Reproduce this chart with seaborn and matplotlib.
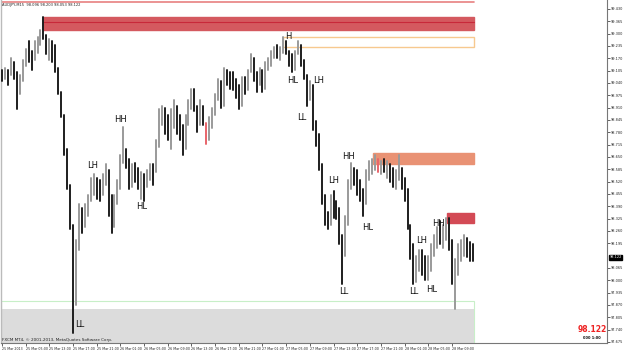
import matplotlib
matplotlib.use("Agg")
import matplotlib.pyplot as plt
import numpy as np
import pandas as pd
import seaborn as sns
from matplotlib.patches import Rectangle

# ---------------- data (AUDJPY, M15 bars) ----------------
highs = [99.11, 99.12, 99.11, 99.17, 99.15, 99.10, 99.08, 99.16, 99.22, 99.26,
         99.21, 99.26, 99.28, 99.32, 99.39, 99.29, 99.27, 99.26, 99.24, 99.12,
         98.99, 98.87, 98.69, 98.50, 98.29, 98.21, 98.40, 98.38, 98.40, 98.45,
         98.54, 98.56, 98.54, 98.53, 98.56, 98.61, 98.58, 98.45, 98.45, 98.53,
         98.66, 98.81, 98.69, 98.64, 98.61, 98.62, 98.59, 98.57, 98.56, 98.58,
         98.61, 98.61, 98.74, 98.90, 98.92, 98.91, 98.87, 98.90, 98.95, 98.92,
         98.87, 98.82, 98.87, 98.95, 99.01, 99.01, 98.92, 98.95, 98.92, 98.83,
         98.86, 98.91, 98.98, 99.06, 99.05, 99.12, 99.11, 99.10, 99.10, 99.06,
         99.03, 99.07, 99.07, 99.11, 99.19, 99.17, 99.10, 99.12, 99.11, 99.15,
         99.17, 99.21, 99.23, 99.24, 99.23, 99.28, 99.26, 99.21, 99.19, 99.21,
         99.26, 99.24, 99.16, 99.08, 99.05, 99.03, 98.84, 98.77, 98.61, 98.45,
         98.36, 98.45, 98.47, 98.42, 98.38, 98.24, 98.34, 98.53, 98.62, 98.59,
         98.58, 98.53, 98.48, 98.58, 98.63, 98.64, 98.66, 98.64, 98.63, 98.64,
         98.63, 98.61, 98.59, 98.58, 98.66, 98.59, 98.54, 98.48, 98.29, 98.19,
         98.13, 98.16, 98.16, 98.13, 98.13, 98.19, 98.24, 98.28, 98.31, 98.29,
         98.33, 98.33, 98.21, 98.11, 98.19, 98.21, 98.24, 98.22, 98.20, 98.19]
lows = [99.05, 99.06, 99.03, 99.08, 99.06, 98.90, 98.98, 99.05, 99.13, 99.15,
        99.11, 99.16, 99.20, 99.24, 99.27, 99.19, 99.16, 99.15, 99.10, 98.98,
        98.86, 98.66, 98.48, 98.27, 97.72, 97.87, 98.16, 98.25, 98.28, 98.34,
        98.42, 98.45, 98.43, 98.42, 98.45, 98.50, 98.34, 98.25, 98.28, 98.40,
        98.48, 98.62, 98.59, 98.48, 98.49, 98.52, 98.48, 98.43, 98.42, 98.49,
        98.53, 98.50, 98.57, 98.70, 98.82, 98.77, 98.74, 98.69, 98.80, 98.77,
        98.74, 98.66, 98.69, 98.82, 98.90, 98.89, 98.78, 98.82, 98.82, 98.72,
        98.74, 98.80, 98.87, 98.95, 98.91, 98.92, 99.03, 99.01, 99.00, 98.96,
        98.90, 98.92, 98.98, 99.00, 99.10, 99.05, 98.99, 99.03, 98.99, 99.01,
        99.11, 99.13, 99.17, 99.17, 99.16, 99.20, 99.19, 99.13, 99.10, 99.11,
        99.19, 99.13, 99.06, 98.92, 98.95, 98.79, 98.71, 98.58, 98.40, 98.29,
        98.27, 98.29, 98.33, 98.32, 98.19, 97.98, 98.13, 98.29, 98.48, 98.50,
        98.45, 98.42, 98.34, 98.40, 98.53, 98.56, 98.58, 98.57, 98.56, 98.57,
        98.54, 98.52, 98.49, 98.48, 98.53, 98.48, 98.42, 98.27, 98.11, 97.98,
        97.99, 98.05, 98.03, 98.00, 98.00, 98.05, 98.13, 98.17, 98.19, 98.17,
        98.21, 98.16, 97.98, 97.85, 98.03, 98.10, 98.13, 98.12, 98.10, 98.10]
closes = [99.08, 99.10, 99.06, 99.13, 99.08, 98.98, 99.06, 99.13, 99.20, 99.19,
          99.17, 99.22, 99.26, 99.29, 99.27, 99.22, 99.24, 99.19, 99.12, 98.99,
          98.87, 98.69, 98.50, 98.29, 97.90, 98.16, 98.34, 98.29, 98.36, 98.42,
          98.50, 98.52, 98.49, 98.48, 98.53, 98.57, 98.40, 98.29, 98.42, 98.50,
          98.64, 98.69, 98.62, 98.54, 98.58, 98.56, 98.50, 98.53, 98.48, 98.56,
          98.58, 98.57, 98.71, 98.86, 98.89, 98.82, 98.79, 98.84, 98.90, 98.80,
          98.79, 98.70, 98.84, 98.92, 98.98, 98.91, 98.82, 98.90, 98.84, 98.77,
          98.82, 98.89, 98.95, 99.03, 98.95, 99.08, 99.07, 99.06, 99.03, 98.99,
          98.95, 99.05, 99.01, 99.08, 99.16, 99.07, 99.06, 99.10, 99.03, 99.13,
          99.15, 99.19, 99.21, 99.20, 99.21, 99.24, 99.21, 99.16, 99.13, 99.19,
          99.22, 99.16, 99.08, 98.98, 99.01, 98.82, 98.75, 98.61, 98.43, 98.33,
          98.29, 98.42, 98.37, 98.36, 98.21, 98.16, 98.32, 98.50, 98.56, 98.54,
          98.49, 98.45, 98.42, 98.56, 98.61, 98.62, 98.63, 98.59, 98.61, 98.58,
          98.61, 98.56, 98.53, 98.56, 98.57, 98.50, 98.45, 98.29, 98.16, 98.05,
          98.10, 98.12, 98.07, 98.05, 98.10, 98.16, 98.21, 98.24, 98.22, 98.27,
          98.29, 98.19, 98.00, 98.05, 98.13, 98.17, 98.19, 98.16, 98.13, 98.122]
first_open = 99.10
red_bars = [69, 127]

# supply / demand zones: start bar, end bar, low price, high price
zone_start = [14, 95, 125.3, 150.3]
zone_end = [159.5, 159.5, 159.5, 159.5]
zone_low = [99.32, 99.23, 98.61, 98.30]
zone_high = [99.39, 99.28, 98.67, 98.355]
zone_mid = 99.36
demand_low, demand_top, demand_outer = 97.669, 97.85, 97.89
top_line = 99.469

# swing labels: text, bar, price
swing_text = ["LL", "LH", "HH", "HL", "H", "HL", "LH", "LL", "LH",
              "HH", "HL", "LL", "LH", "HH", "HL", "LL"]
swing_bar = [26.4, 30.7, 40.2, 47.3, 96.6, 98.3, 106.8, 101.4, 112.2,
             117.2, 123.6, 115.5, 141.6, 147.3, 145.3, 139.2]
swing_price = [97.764, 98.607, 98.845, 98.386, 99.287, 99.055, 99.055, 98.86, 98.523,
               98.65, 98.28, 97.94, 98.207, 98.297, 97.949, 97.938]

x_tick_labels = ["25 Mar 2013", "25 Mar 05:00", "25 Mar 13:00", "25 Mar 17:00", "25 Mar 21:00",
                 "26 Mar 01:00", "26 Mar 05:00", "26 Mar 09:00", "26 Mar 13:00", "26 Mar 17:00",
                 "26 Mar 21:00", "27 Mar 01:00", "27 Mar 05:00", "27 Mar 09:00", "27 Mar 13:00",
                 "27 Mar 17:00", "27 Mar 21:00", "28 Mar 01:00", "28 Mar 05:00", "28 Mar 09:00"]
y_tick_labels = ["99.430", "99.365", "99.300", "99.235", "99.170", "99.105", "99.040",
                 "98.975", "98.910", "98.845", "98.780", "98.715", "98.650", "98.585",
                 "98.520", "98.455", "98.390", "98.325", "98.260", "98.195",
                 "98.065", "98.000", "97.935", "97.870", "97.805", "97.740", "97.675"]
last_price = "98.122"
title_text = "AUDJPY,M15  98.096 98.203 98.053 98.122"
copyright_text = "FXCM MT4, \u00a9 2001-2013, MetaQuotes Software Corp."

# ---------------- build frame ----------------
opens = [first_open] + closes[:-1]
rows = []
for i, (h, l, o, c) in enumerate(zip(highs, lows, opens, closes)):
    kind = "red" if i in red_bars else ("up" if c >= o else "down")
    rows.append({"bar": i, "price": h, "kind": kind})
    rows.append({"bar": i, "price": l, "kind": kind})
df = pd.DataFrame(rows)

sns.set_theme(style="white")
plt.rcParams["font.family"] = ["DejaVu Sans"]

AX_LEFT_PX, AX_RIGHT_PX = 1, 607
fig = plt.figure(figsize=(6.25, 3.5), dpi=100)
fig.patch.set_facecolor("white")
ax = fig.add_axes([AX_LEFT_PX / 625, 7 / 350, (AX_RIGHT_PX - AX_LEFT_PX) / 625, 343 / 350])
ax.set_facecolor("white")

XMIN = (AX_LEFT_PX - 2) / 2.96
XMAX = (AX_RIGHT_PX - 2) / 2.96

# zones
ax.add_patch(Rectangle((XMIN, demand_low), 159.5 - XMIN, demand_outer - demand_low,
                       facecolor="white", edgecolor="#c8efc8", lw=0.8, zorder=1))
ax.add_patch(Rectangle((XMIN, demand_low), 159.5 - XMIN, demand_top - demand_low,
                       facecolor="#dcdcdc", edgecolor="none", zorder=1.1))
zone_colors = ["#d4595f", "white", "#e99274", "#d34a55"]
zone_edges = ["#d4595f", "#f7c98f", "#e99274", "#d34a55"]
for s, e, lo, hi, fc, ec in zip(zone_start, zone_end, zone_low, zone_high, zone_colors, zone_edges):
    ax.add_patch(Rectangle((s, lo), e - s, hi - lo, facecolor=fc, edgecolor=ec,
                           lw=1.0, zorder=1.5))
ax.plot([zone_start[0], zone_end[0]], [zone_mid, zone_mid], color="#c8283a", lw=0.8, zorder=1.6)
ax.plot([XMIN, 159.5], [top_line, top_line], color="#e88080", lw=1.2, zorder=1.6)

# bars through seaborn
sns.lineplot(data=df, x="bar", y="price", units="bar", estimator=None, hue="kind",
             palette={"up": "#9a9a9a", "down": "#1e1e1e", "red": "#e8646a"},
             legend=False, linewidth=1.4, sort=False, ax=ax, zorder=3)

# swing labels
for t, b, p in zip(swing_text, swing_bar, swing_price):
    ax.text(b, p, t, fontsize=6, color="#111111", ha="center", va="center", zorder=4)

ax.set_xlim(XMIN, XMAX)
ax.set_ylim(97.669, 99.477)
ax.set_xlabel("")
ax.set_ylabel("")

# axes styling
ax.spines["top"].set_visible(False)
ax.spines["left"].set_color("#bbbbbb")
ax.spines["left"].set_linewidth(1.0)
ax.spines["right"].set_color("#777777")
ax.spines["right"].set_linewidth(0.8)
ax.spines["bottom"].set_color("#777777")
ax.spines["bottom"].set_linewidth(0.8)

ax.yaxis.tick_right()
ax.set_yticks([float(v) for v in y_tick_labels])
ax.set_yticklabels(y_tick_labels)
ax.tick_params(axis="y", right=True, left=False, length=2, width=0.5, pad=1,
               labelsize=2.5, colors="#222222")
ax.set_xticks(np.arange(len(x_tick_labels)) * 8)
ax.set_xticklabels(x_tick_labels, ha="left")
ax.tick_params(axis="x", bottom=True, length=2, width=0.5, pad=1,
               labelsize=2.35, colors="#222222")

# current price box on the y-axis
ax.text(1.004, (98.122 - 97.669) / (99.477 - 97.669), last_price, transform=ax.transAxes,
        fontsize=2.5, color="white", ha="left", va="center",
        bbox=dict(boxstyle="square,pad=0.15", facecolor="black", edgecolor="black"),
        zorder=6, clip_on=False)

# texts
fig.text(2 / 625, 1 - 5 / 350, title_text, fontsize=2.6, color="#222222", ha="left", va="center")
fig.text(2 / 625, 1 - 340 / 350, copyright_text, fontsize=3.0, color="#222222", ha="left", va="center")
fig.text(592 / 625, 1 - 329 / 350, last_price, fontsize=5.5, color="#ee2222", ha="center",
         va="center", fontweight="bold")
fig.text(592 / 625, 1 - 338 / 350, "000 1:00", fontsize=2.6, color="#111111", ha="center",
         va="center", fontweight="bold")

fig.savefig("out.png", dpi=100)
